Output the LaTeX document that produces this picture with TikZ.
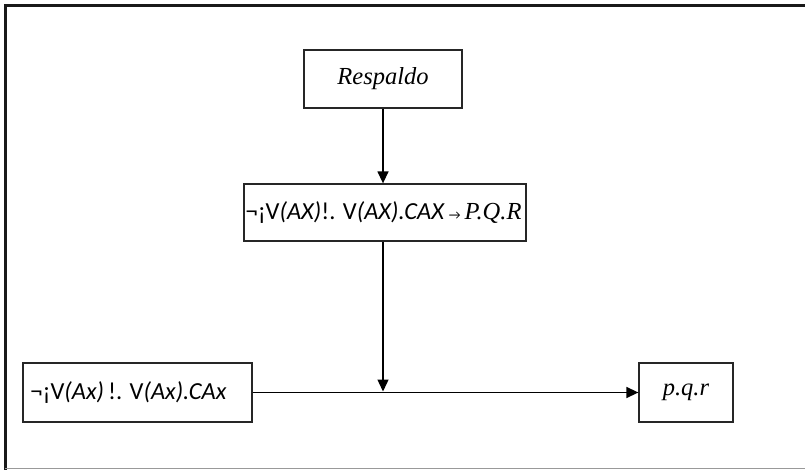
\documentclass[tikz,border=0pt]{standalone}
\usepackage{fontspec}
\setmainfont{Carlito}
\newfontfamily\serifit{Liberation Serif}
\usetikzlibrary{arrows.meta}
\begin{document}
\begin{tikzpicture}[x=1pt,y=-1pt,
  box/.style={draw=black!85,line width=1.3pt,inner sep=0pt,align=center,font=\fontsize{24.5}{28}\selectfont},
  link/.style={line width=1.4pt,draw=black},
  tip/.style={-{Triangle[length=12pt,width=11pt]}}]
\useasboundingbox (0,0) rectangle (805,470);
% page frame
\draw[line width=2.6pt,black!90] (5.2,470) -- (5.2,5.5) -- (805,5.5);
\draw[line width=1.3pt,black!40] (5.2,468.5) -- (805,468.5);
% boxes
\node[box,minimum width=158pt,minimum height=58pt] (resp) at (383,79)
  {\serifit\itshape Respaldo};
\node[box,minimum width=282pt,minimum height=57pt] (rule) at (385,212.5)
  {\hspace*{-3pt}¬¡V\textit{(AX)}!. V\textit{(AX).CAX}\,{\fontsize{13}{14}\selectfont→}\,{\serifit\itshape P.Q.R}};
\node[box,minimum width=229pt,minimum height=59pt] (prem) at (137.5,392.5)
  {¬¡V\textit{(Ax)}\,!. V\textit{(Ax).CAx}\hspace*{18pt}};
\node[box,minimum width=94pt,minimum height=59pt] (conc) at (686,392.5)
  {\serifit\itshape p.q.r};
% connectors
\draw[link,tip] (resp.south -| 383,0) -- (rule.north -| 383,0);
\draw[link,tip] (rule.south -| 383,0) -- (383,391.5);
\draw[link,tip] (prem.east) -- (conc.west);
\end{tikzpicture}
\end{document}
